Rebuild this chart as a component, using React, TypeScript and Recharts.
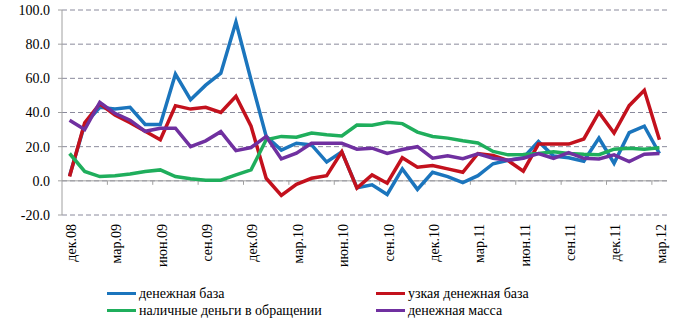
import React from 'react'
import {
  LineChart,
  Line,
  XAxis,
  YAxis,
  CartesianGrid,
  ReferenceLine,
  Legend,
} from 'recharts'

document.body.style.margin = '0'

const FONT = "'Times New Roman', 'Liberation Serif', 'DejaVu Serif', serif"

const months = [
  'дек.08',
  'янв.09', 'фев.09', 'мар.09', 'апр.09', 'май.09', 'июн.09', 'июл.09', 'авг.09', 'сен.09', 'окт.09', 'ноя.09', 'дек.09',
  'янв.10', 'фев.10', 'мар.10', 'апр.10', 'май.10', 'июн.10', 'июл.10', 'авг.10', 'сен.10', 'окт.10', 'ноя.10', 'дек.10',
  'янв.11', 'фев.11', 'мар.11', 'апр.11', 'май.11', 'июн.11', 'июл.11', 'авг.11', 'сен.11', 'окт.11', 'ноя.11', 'дек.11',
  'янв.12', 'фев.12', 'мар.12',
]

// денежная база
const monetaryBase = [3, 33, 43, 42, 43, 33, 33, 62.5, 47.5, 56, 63, 93, 59, 26, 18, 22, 21, 11, 17, -4, -2.3, -8, 7, -5, 5, 2.5, -1, 3, 10, 12, 13.5, 23, 14.5, 13.5, 11.5, 25, 10.3, 28.2, 32, 16]
// узкая денежная база
const narrowBase = [2.5, 34, 45, 38.5, 34, 29, 24, 44, 42, 43, 40, 49.5, 32, 1.5, -8.5, -2, 1.5, 3, 17, -4.3, 3.5, -1.4, 13.5, 8, 9, 7, 5, 16, 14.8, 11.8, 5.7, 21.5, 21.5, 21.5, 24.5, 40, 28, 44, 53, 24]
// наличные деньги в обращении
const cash = [16, 5.5, 2.5, 3, 4, 5.5, 6.4, 2.5, 1.2, 0.4, 0.4, 3.5, 6.4, 24, 26, 25.5, 28, 27, 26.3, 32.7, 32.6, 34.3, 33.5, 28.5, 26, 25, 23.5, 22.2, 17.2, 15.2, 15.4, 16, 17, 16, 15.5, 15.3, 18.5, 19, 18.5, 19.3]
// денежная масса
const moneySupply = [35.5, 30, 46, 39.5, 35.5, 29, 30.8, 30.8, 20, 23.4, 28.8, 17.7, 19.5, 26, 12.8, 16.2, 22, 22, 22, 18.5, 19.1, 16, 18.3, 20, 13.3, 14.7, 13, 15.8, 13.2, 12, 13.2, 16, 13.2, 16.5, 13.2, 12.8, 15.2, 11.3, 15.6, 16]

const yTicks = [-20, 0, 20, 40, 60, 80, 100]

const series = [
  { key: 'base', name: 'денежная база', color: '#1b75bd' },
  { key: 'narrow', name: 'узкая денежная база', color: '#c3111d' },
  { key: 'cash', name: 'наличные деньги в обращении', color: '#1fae5c' },
  { key: 'm2', name: 'денежная масса', color: '#7030a0' },
]

const data = months.map((m, i) => ({
  m,
  base: monetaryBase[i],
  narrow: narrowBase[i],
  cash: cash[i],
  m2: moneySupply[i],
}))

const TICK_EVERY = 3

function MonthTick(props: any) {
  const { x, y, payload } = props
  return (
    <text
      transform={`translate(${x},${y}) rotate(-90)`}
      textAnchor="end"
      dy="0.45em"
      fontSize={14}
      style={{ fontFamily: FONT }}
      fill="#000"
    >
      {payload.value}
    </text>
  )
}

// zero line with tick marks between category groups
function ZeroAxis(props: any) {
  const { x1, x2, y1 } = props
  const step = (x2 - x1) / months.length
  const marks = []
  for (let k = TICK_EVERY; k < months.length; k += TICK_EVERY) {
    const tx = x1 + step * k
    marks.push(<line key={k} x1={tx} x2={tx} y1={y1} y2={y1 + 4} stroke="#a0a0a0" />)
  }
  return (
    <g>
      <line x1={x1} x2={x2} y1={y1} y2={y1} stroke="#a0a0a0" strokeWidth={1} />
      {marks}
    </g>
  )
}

function LegendBox() {
  const cols = [107, 376]
  return (
    <div style={{ position: 'relative', width: 700, height: 46, fontFamily: FONT, fontSize: 14, color: '#000' }}>
      {series.map((s, i) => (
        <div
          key={s.key}
          style={{
            position: 'absolute',
            left: cols[i % 2],
            top: 8 + Math.floor(i / 2) * 17,
            height: 17,
            display: 'flex',
            alignItems: 'center',
            whiteSpace: 'nowrap',
          }}
        >
          <span style={{ display: 'inline-block', width: 29, height: 3, background: s.color, marginRight: 3 }} />
          <span>{s.name}</span>
        </div>
      ))}
    </div>
  )
}

export default function App() {
  return (
    <div style={{ fontFamily: FONT }}>
      <LineChart
        width={700}
        height={323}
        data={data}
        margin={{ top: 10, right: 33, left: 0, bottom: 0 }}
        style={{ fontFamily: FONT }}
      >
        <CartesianGrid vertical={false} stroke="#8a8a9c" strokeDasharray="5 3" />
        <XAxis
          dataKey="m"
          scale="band"
          interval={TICK_EVERY - 1}
          axisLine={false}
          tickLine={false}
          tickSize={0}
          tickMargin={9}
          height={62}
          tick={<MonthTick />}
        />
        <YAxis
          width={62}
          domain={[-20, 100]}
          ticks={yTicks}
          tickFormatter={(v: number) => v.toFixed(1)}
          axisLine={{ stroke: '#a0a0a0' }}
          tickLine={{ stroke: '#a0a0a0' }}
          tickSize={4}
          tickMargin={8}
          tick={{ fontSize: 14, fill: '#000', style: { fontFamily: FONT } }}
          allowDataOverflow
        />
        <ReferenceLine y={0} shape={<ZeroAxis />} />
        {series.map((s) => (
          <Line
            key={s.key}
            type="linear"
            dataKey={s.key}
            name={s.name}
            stroke={s.color}
            strokeWidth={3.5}
            dot={false}
            isAnimationActive={false}
          />
        ))}
        <Legend
          verticalAlign="bottom"
          height={46}
          wrapperStyle={{ left: 0, width: 700 }}
          content={() => <LegendBox />}
        />
      </LineChart>
    </div>
  )
}
